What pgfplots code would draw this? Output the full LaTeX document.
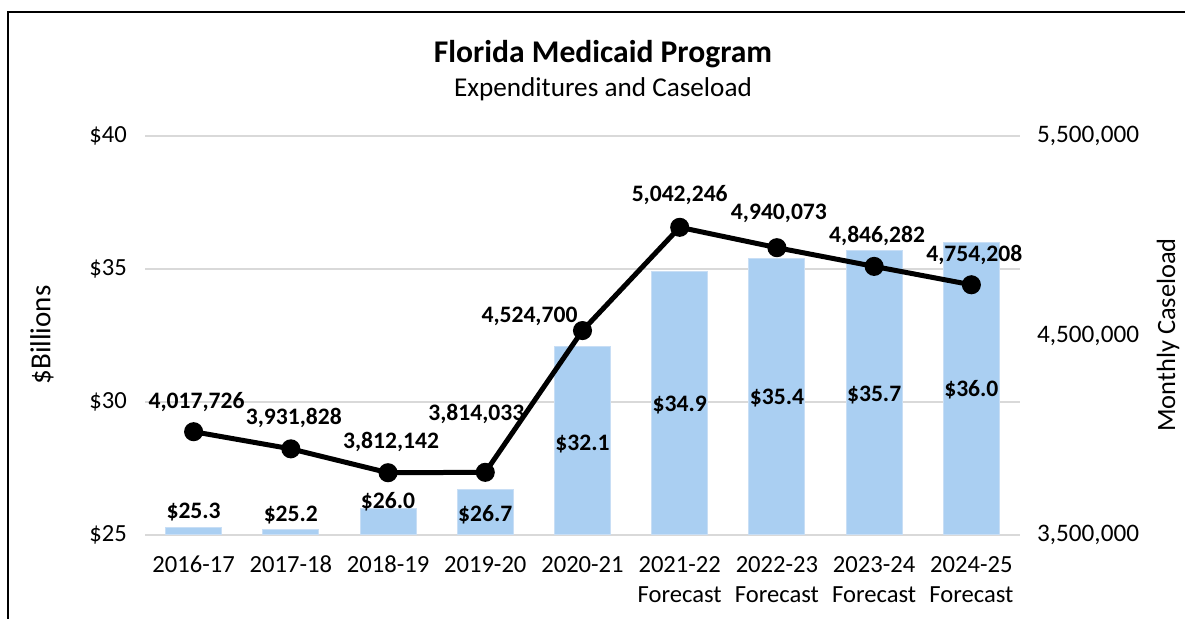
\documentclass[border=0pt]{standalone}
\usepackage{pgfplots}
\pgfplotsset{compat=1.18}
\usepackage{fontspec}
\setmainfont{Carlito}
\definecolor{barblue}{RGB}{170,207,242}
\definecolor{gridgray}{RGB}{217,217,217}

\begin{document}
\begin{tikzpicture}[font=\fontsize{12.3}{15}\selectfont]
\useasboundingbox (0,0) rectangle (592.5pt,309.5pt);
\fill[white] (0,0) rectangle (592.5pt,309.5pt);
\draw[line width=1pt] (4pt,-2pt) -- (4pt,303.5pt) -- (595pt,303.5pt);

% titles
\node[anchor=base, font=\fontsize{15.8}{18}\selectfont\bfseries] at (301.5pt,278pt) {Florida Medicaid Program};
\node[anchor=base, font=\fontsize{13.6}{16}\selectfont] at (301.5pt,261pt) {Expenditures and Caseload};
\node[rotate=90, font=\fontsize{14.5}{16}\selectfont] at (21pt,142pt) {\$Billions};
\node[rotate=90, font=\fontsize{13.2}{16}\selectfont] at (584pt,142pt) {Monthly Caseload};

\begin{axis}[
    at={(72.5pt,42pt)}, anchor=south west,
    scale only axis, width=437.5pt, height=199.5pt,
    xmin=-0.5, xmax=8.5, ymin=25, ymax=40,
    clip mode=individual,
    axis line style={draw=none},
    major tick length=0pt,
    ymajorgrids, grid style={gridgray, line width=1pt},
    ytick={25,30,35,40},
    yticklabels={\$25,\$30,\$35,\$40},
    yticklabel style={xshift=-5.6pt},
    xtick={0,...,8},
    xticklabels={2016-17,2017-18,2018-19,2019-20,2020-21,
      {2021-22\\Forecast},{2022-23\\Forecast},{2023-24\\Forecast},{2024-25\\Forecast}},
    xticklabel style={align=center, yshift=-7pt, font=\fontsize{12.3}{15}\selectfont},
    scaled y ticks=false,
]
\addplot[ybar, bar width=28pt, fill=barblue, draw={rgb,255:red,200;green,222;blue,245}, line width=0.5pt]
coordinates {(0,25.3) (1,25.2) (2,26.0) (3,26.7) (4,32.1) (5,34.9) (6,35.4) (7,35.7) (8,36.0)};

\begin{scope}[every node/.style={anchor=base, font=\fontsize{11.8}{13}\selectfont\bfseries}]
\node at (axis cs:0,25.62) {\$25.3};
\node at (axis cs:1,25.51) {\$25.2};
\node at (axis cs:2,26.00) {\$26.0};
\node at (axis cs:3,25.51) {\$26.7};
\node at (axis cs:4,28.18) {\$32.1};
\node at (axis cs:5,29.64) {\$34.9};
\node at (axis cs:6,29.91) {\$35.4};
\node at (axis cs:7,30.02) {\$35.7};
\node at (axis cs:8,30.21) {\$36.0};
\end{scope}
\end{axis}

\begin{axis}[
    at={(72.5pt,42pt)}, anchor=south west,
    scale only axis, width=437.5pt, height=199.5pt,
    xmin=-0.5, xmax=8.5, ymin=3500000, ymax=5500000,
    clip=false,
    axis x line=none, axis y line*=right,
    y axis line style={draw=none},
    major tick length=0pt,
    ytick={3500000,4500000,5500000},
    yticklabels={{3,500,000},{4,500,000},{5,500,000}},
    yticklabel style={xshift=5pt, font=\fontsize{12.6}{15}\selectfont},
    scaled y ticks=false,
]
\addplot[black, line width=2.5pt, mark=*, mark size=3.5pt]
coordinates {(0,4017726) (1,3931828) (2,3812142) (3,3814033) (4,4524700) (5,5042246) (6,4940073) (7,4846282) (8,4754208)};

\begin{scope}[every node/.style={anchor=base, font=\fontsize{11.8}{13}\selectfont\bfseries}]
\node[xshift=1.5pt, yshift=11.8pt] at (axis cs:0,4017726) {4,017,726};
\node[xshift=1.5pt, yshift=12.3pt] at (axis cs:1,3931828) {3,931,828};
\node[xshift=1.5pt, yshift=12.3pt] at (axis cs:2,3812142) {3,812,142};
\node[xshift=-4.5pt, yshift=25.8pt] at (axis cs:3,3814033) {3,814,033};
\node[xshift=-26.5pt, yshift=3.8pt] at (axis cs:4,4524700) {4,524,700};
\node[xshift=0pt, yshift=12.8pt] at (axis cs:5,5042246) {5,042,246};
\node[xshift=1pt, yshift=14.3pt] at (axis cs:6,4940073) {4,940,073};
\node[xshift=1.5pt, yshift=11.8pt] at (axis cs:7,4846282) {4,846,282};
\node[xshift=1.5pt, yshift=11.8pt] at (axis cs:8,4754208) {4,754,208};
\end{scope}
\end{axis}
\end{tikzpicture}
\end{document}
